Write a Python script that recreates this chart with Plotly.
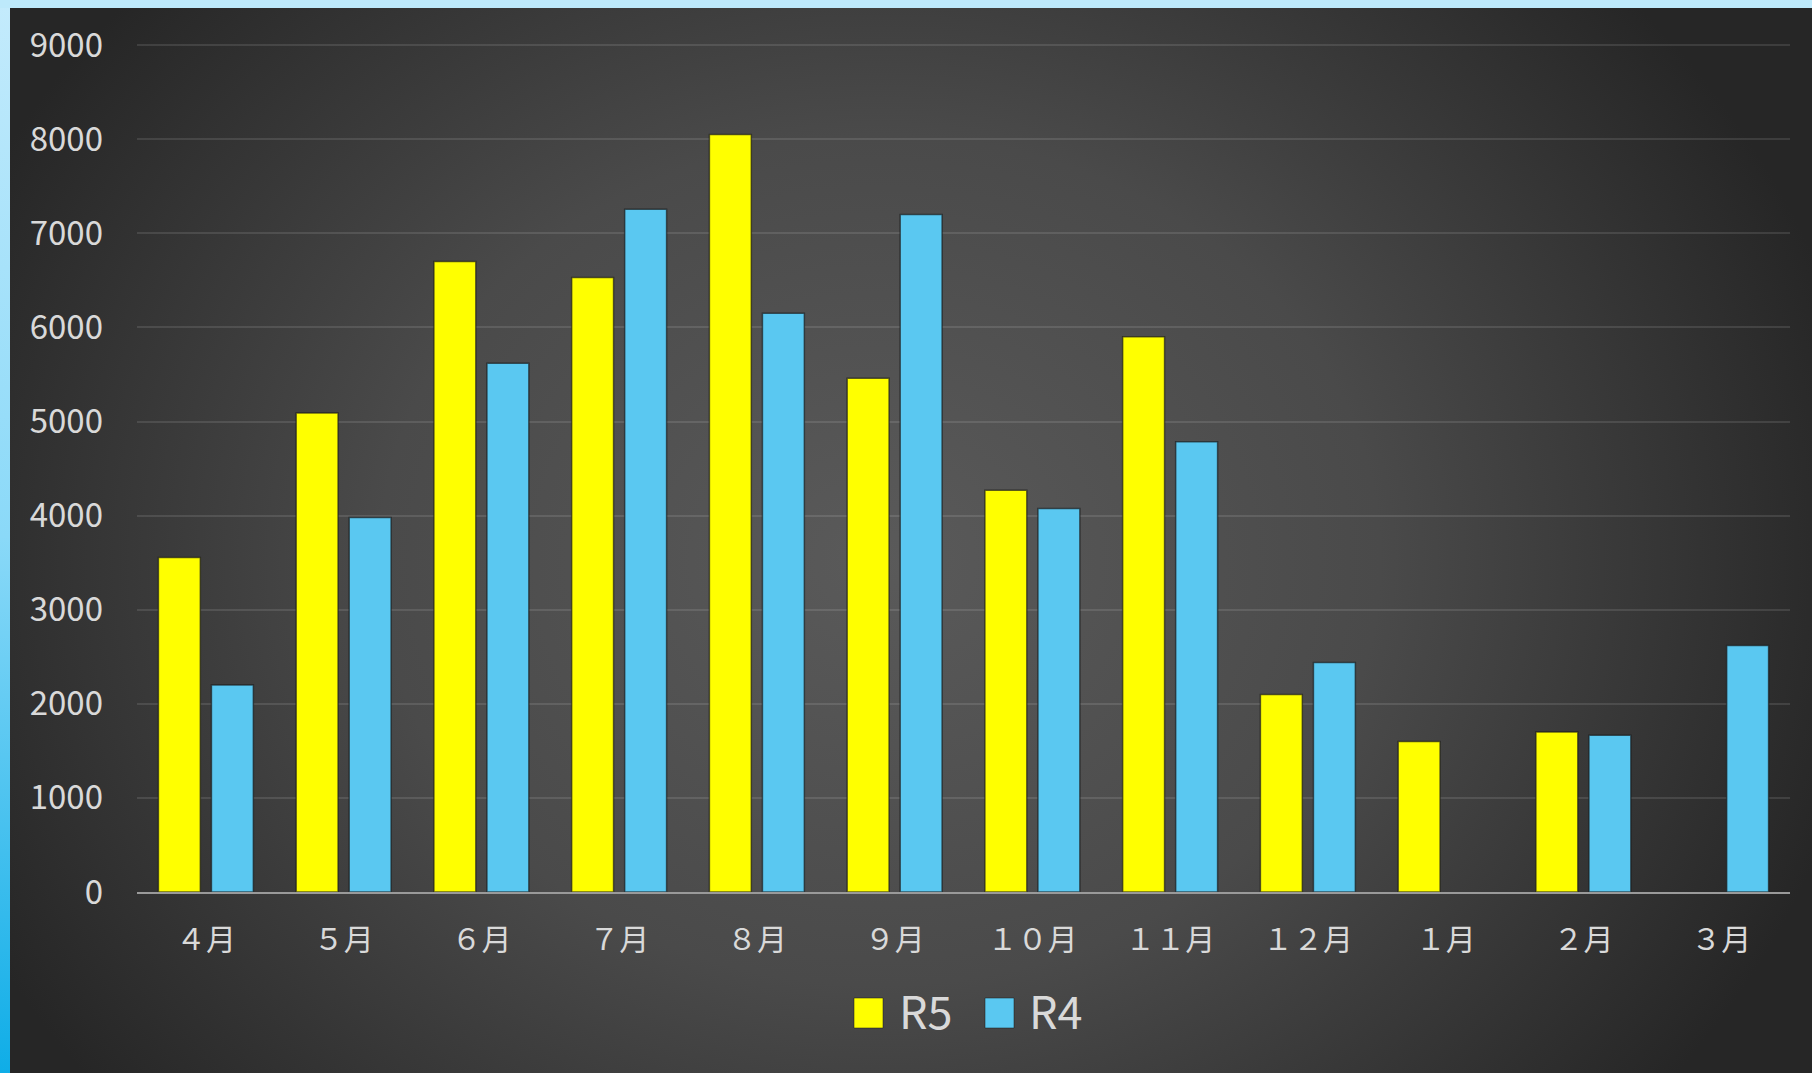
import base64
import plotly.graph_objects as go

# Monthly counts, fiscal year order (April to March)
months = ["４月", "５月", "６月", "７月", "８月", "９月",
          "１０月", "１１月", "１２月", "１月", "２月", "３月"]
r5_values = [3555, 5090, 6700, 6530, 8050, 5460, 4270, 5900, 2100, 1600, 1700, None]
r4_values = [2200, 3980, 5620, 7255, 6150, 7200, 4075, 4785, 2440, None, 1665, 2620]
y_ticks = [0, 1000, 2000, 3000, 4000, 5000, 6000, 7000, 8000, 9000]
series_names = ["R5", "R4"]

YELLOW = "#ffff00"
BLUE = "#5ac8f1"
TEXT = "#d9d9d9"

W, H = 1812, 1073
L, R, T, B = 137, 22, 44, 181
PW, PH = W - L - R, H - T - B
Y_MAX = 9012  # a little headroom so the 9000 gridline is drawn


def px_x(px):
    return (px - L) / PW


def px_y(py):
    return (H - B - py) / PH


# Dark radial backdrop with a light-blue edge on the top and left
svg = f"""<svg xmlns="http://www.w3.org/2000/svg" width="{W}" height="{H}" viewBox="0 0 {W} {H}" preserveAspectRatio="none">
<defs>
<radialGradient id="bg" gradientUnits="userSpaceOnUse" cx="880" cy="560" r="1000"
 gradientTransform="translate(880 560) scale(1 0.85) translate(-880 -560)">
<stop offset="0" stop-color="#5a5a5a"/>
<stop offset="0.5" stop-color="#4a4a4a"/>
<stop offset="1" stop-color="#262626"/>
</radialGradient>
<linearGradient id="edge" x1="0" y1="0" x2="0" y2="1">
<stop offset="0" stop-color="#c4ebfc"/>
<stop offset="0.5" stop-color="#8ad9f8"/>
<stop offset="1" stop-color="#0fade7"/>
</linearGradient>
</defs>
<rect width="{W}" height="{H}" fill="url(#bg)"/>
<rect width="10" height="{H}" fill="url(#edge)"/>
<rect width="{W}" height="8" fill="#bde9fb"/>
</svg>"""
bg_uri = "data:image/svg+xml;base64," + base64.b64encode(svg.encode()).decode()

fig = go.Figure()
fig.add_trace(go.Bar(
    x=months, y=r5_values, name=series_names[0],
    marker=dict(color=YELLOW, line=dict(color="rgba(25,25,25,0.65)", width=1.5)),
))
fig.add_trace(go.Bar(
    x=months, y=r4_values, name=series_names[1],
    marker=dict(color=BLUE, line=dict(color="rgba(25,25,25,0.65)", width=1.5)),
))

# Legend drawn as large swatches with text beside them
swatches = [(854, 883, YELLOW, 900), (985, 1014, BLUE, 1030)]
for (x0, x1, col, tx), name in zip(swatches, series_names):
    fig.add_shape(type="rect", xref="paper", yref="paper",
                  x0=px_x(x0), x1=px_x(x1), y0=px_y(1028), y1=px_y(998),
                  fillcolor=col, line=dict(color="rgba(25,25,25,0.5)", width=1))
    fig.add_annotation(xref="paper", yref="paper", x=px_x(tx - 3), y=px_y(1009),
                       xanchor="left", yanchor="middle", showarrow=False,
                       text=name, font=dict(size=45, color=TEXT,
                                            family="Noto Sans CJK JP, Noto Sans, sans-serif"))

fig.update_layout(
    width=W, height=H,
    margin=dict(l=L, r=R, t=T, b=B, pad=0),
    paper_bgcolor="#2a2a2a",
    plot_bgcolor="rgba(0,0,0,0)",
    barmode="group",
    bargap=0.23,
    bargroupgap=0.21,
    showlegend=False,
    font=dict(family="Noto Sans CJK JP, Noto Sans, sans-serif", color=TEXT),
    images=[dict(source=bg_uri, xref="paper", yref="paper",
                 x=px_x(0), y=px_y(0), sizex=W / PW, sizey=H / PH,
                 xanchor="left", yanchor="top", sizing="stretch",
                 layer="below")],
)
fig.update_xaxes(
    showgrid=False, showline=True, linecolor="#9a9a9a", linewidth=2,
    ticks="", tickfont=dict(size=30, color=TEXT), ticklabelstandoff=20,
)
fig.update_yaxes(
    range=[0, Y_MAX], tickvals=y_ticks, ticktext=[str(v) for v in y_ticks],
    showgrid=True, gridcolor="rgba(255,255,255,0.11)", gridwidth=2,
    zeroline=False, showline=False, ticks="",
    tickfont=dict(size=33, color=TEXT), ticklabelstandoff=33,
)

fig.write_html("out.html")
